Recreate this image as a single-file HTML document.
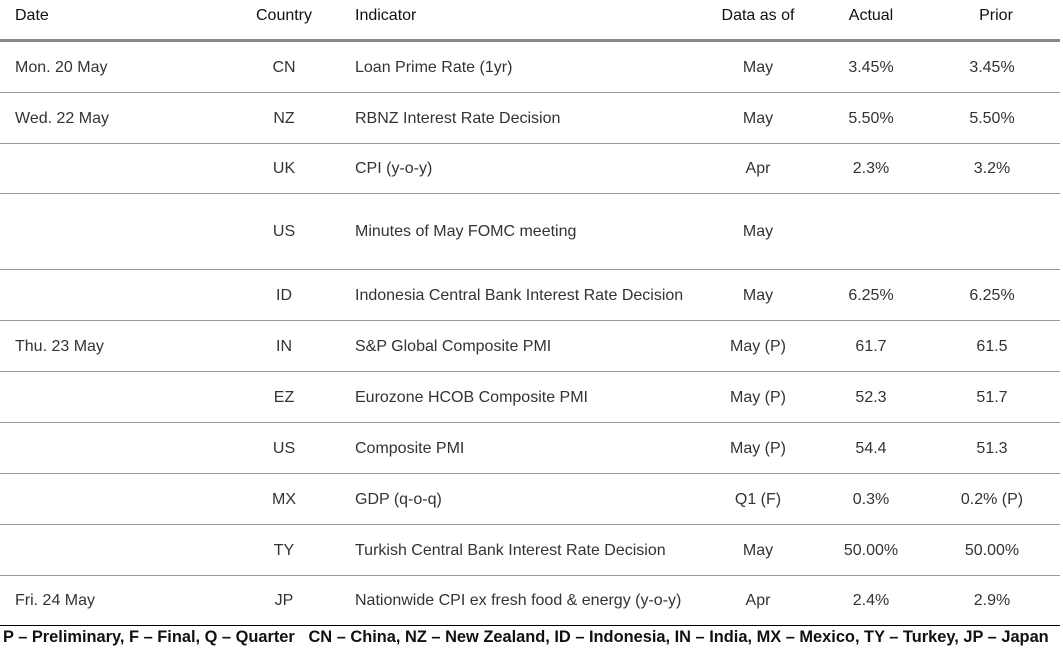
<!DOCTYPE html>
<html><head><meta charset="utf-8"><style>
body{margin:0;width:1063px;height:657px;background:#fff;font-family:"Liberation Sans",sans-serif;color:#333;overflow:hidden;position:relative}
.t{position:absolute;font-size:16px;white-space:nowrap;line-height:18px}
.h{font-weight:normal;color:#111;font-size:16px}
.c{transform:translateX(-50%)}
.ln{position:absolute;left:0;width:1060px;height:1px;background:#999}
</style></head><body>
<div class="t h" style="left:15px;top:7px">Date</div>
<div class="t h c" style="left:284px;top:7px">Country</div>
<div class="t h" style="left:355px;top:7px">Indicator</div>
<div class="t h c" style="left:758px;top:7px">Data as of</div>
<div class="t h c" style="left:871px;top:7px">Actual</div>
<div class="t h c" style="left:996px;top:7px">Prior</div>
<div style="position:absolute;left:0;top:39px;width:1060px;height:3px;background:#888"></div>
<div id="rows"></div>
<div style="position:absolute;left:0;top:625px;width:1060px;height:1px;background:#000"></div>
<div class="t" style="left:3px;top:628px;font-size:16.4px;font-weight:bold;color:#111">P – Preliminary, F – Final, Q – Quarter &nbsp; CN – China, NZ – New Zealand, ID – Indonesia, IN – India, MX – Mexico, TY – Turkey, JP – Japan</div>
<script>
const dates=["Mon. 20 May","Wed. 22 May","","","","Thu. 23 May","","","","","Fri. 24 May"];
const countries=["CN","NZ","UK","US","ID","IN","EZ","US","MX","TY","JP"];
const indicators=["Loan Prime Rate (1yr)","RBNZ Interest Rate Decision","CPI (y-o-y)","Minutes of May FOMC meeting","Indonesia Central Bank Interest Rate Decision","S&P Global Composite PMI","Eurozone HCOB Composite PMI","Composite PMI","GDP (q-o-q)","Turkish Central Bank Interest Rate Decision","Nationwide CPI ex fresh food & energy (y-o-y)"];
const asOf=["May","May","Apr","May","May","May (P)","May (P)","May (P)","Q1 (F)","May","Apr"];
const actual=["3.45%","5.50%","2.3%","","6.25%","61.7","52.3","54.4","0.3%","50.00%","2.4%"];
const prior=["3.45%","5.50%","3.2%","","6.25%","61.5","51.7","51.3","0.2% (P)","50.00%","2.9%"];
const bounds=[42,92,143,193,269,320,371,422,473,524,575,625];
const root=document.getElementById('rows');
function cell(txt,x,y,center,name){const d=document.createElement('div');d.className='t'+(center?' c':'');d.style.left=x+'px';d.style.top=(y-8)+'px';d.textContent=txt;


root.appendChild(d);}
for(let i=0;i<countries.length;i++){
 const y=(bounds[i]+bounds[i+1])/2;
 if(dates[i])cell(dates[i],15,y,false,'date-cell');
 cell(countries[i],284,y,true,'country-cell');
 cell(indicators[i],355,y,false,'indicator-cell');
 cell(asOf[i],758,y,true,'data-as-of-cell');
 if(actual[i])cell(actual[i],871,y,true,'actual-cell');
 if(prior[i])cell(prior[i],992,y,true,'prior-cell');
 if(i<countries.length-1){const l=document.createElement('div');l.className='ln';l.style.top=bounds[i+1]+'px';
 
 
 root.appendChild(l);}
}
</script>
</body></html>
